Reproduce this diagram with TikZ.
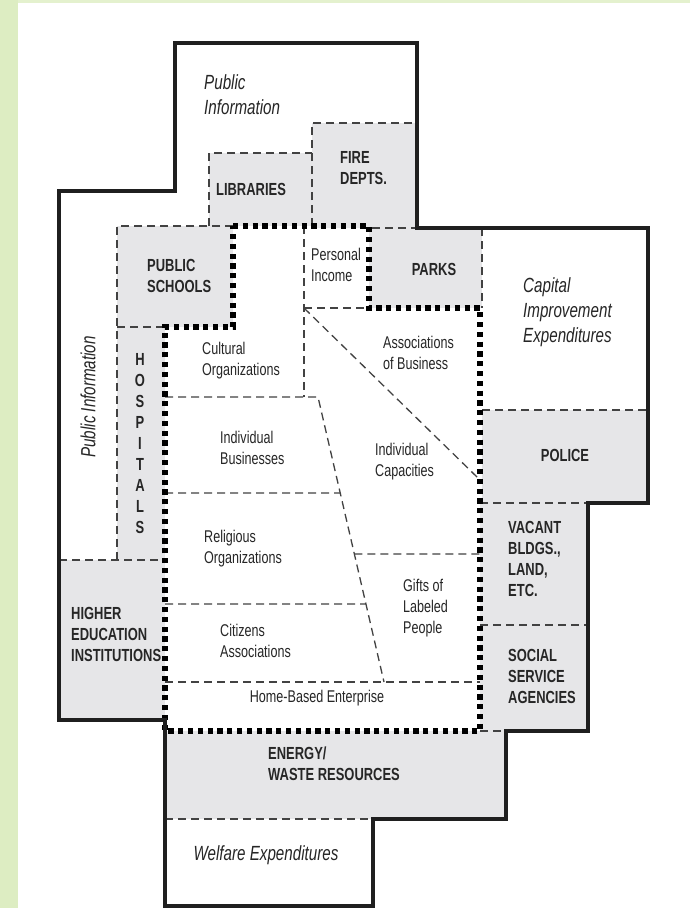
\documentclass[tikz,border=0pt]{standalone}
\usepackage{fontspec}
\setmainfont{Liberation Sans}
\newfontfamily\narrowfont{Liberation Sans}[FakeStretch=0.74]
\usetikzlibrary{calc}
\definecolor{cellgray}{HTML}{E6E6E8}
\definecolor{stripgreen}{HTML}{DDEDC2}
\definecolor{topgreen}{HTML}{E4F1CE}
\tikzset{outline/.style={draw=black!88, line width=4pt, line join=miter}}
\tikzset{cell/.style={draw=black!74, line width=1.3pt, dash pattern=on 8pt off 5pt}}
\tikzset{grayed/.style={fill=cellgray}}
\tikzset{core/.style={draw=black, line width=6pt, dash pattern=on 5.2pt off 4.6pt}}
\tikzset{capstext/.style={font=\narrowfont\bfseries\fontsize{17.5}{21}\selectfont, align=left, inner sep=0pt, text=black!85}}
\tikzset{bodytext/.style={font=\narrowfont\fontsize{17}{21}\selectfont, align=left, inner sep=0pt, text=black!85}}
\tikzset{italtext/.style={font=\narrowfont\itshape\fontsize{20.5}{25}\selectfont, align=left, inner sep=0pt, text=black!85}}
\begin{document}
\begin{tikzpicture}[x=1pt, y=-1pt]
    \useasboundingbox (0,0) rectangle (690,908);
    \fill[white] (0,0) rectangle (690,908);
    \fill[stripgreen] (0,0) rectangle (18,908);
    \fill[topgreen] (18,0) rectangle (690,3);

    \fill[grayed] (209,153) rectangle (312,226);
    \fill[grayed] (312,123) rectangle (417,228);
    \fill[grayed] (117,226) rectangle (233,327);
    \fill[grayed] (117,327) rectangle (165,560);
    \fill[grayed] (59,560) rectangle (165,720);
    \fill[grayed] (369,228) rectangle (482,308);
    \fill[grayed] (482,410) rectangle (648,503);
    \fill[grayed] (480,503) rectangle (588,731);
    \fill[grayed] (165,731) rectangle (506,819);

    \draw[cell] (209,226) -- (209,153) -- (312,153);
    \draw[cell] (312,226) -- (312,123) -- (417,123);
    \draw[cell] (372,228) -- (417,228);
    \draw[cell] (482,228) -- (482,308);
    \draw[cell] (233,226) -- (117,226) -- (117,560);
    \draw[cell] (117,327) -- (165,327);
    \draw[cell] (59,560) -- (165,560);
    \draw[cell] (304,226) -- (304,397);
    \draw[cell] (304,308) -- (369,308);
    \draw[cell] (482,410) -- (648,410);
    \draw[cell] (480,503) -- (588,503);
    \draw[cell] (480,625) -- (588,625);
    \draw[cell] (480,731) -- (506,731);
    \draw[cell] (165,819) -- (373,819);

    \coordinate (slanttop) at (318,397);
    \coordinate (slantbot) at (384,682);
    \draw[cell] (165,397) -- (slanttop) -- (slantbot);
    \draw[cell] (165,493) -- ($(slanttop)!0.337!(slantbot)$);
    \draw[cell] (165,604) -- ($(slanttop)!0.726!(slantbot)$);
    \draw[cell] ($(slanttop)!0.551!(slantbot)$) -- (480,554);
    \draw[cell] (165,682) -- (480,682);
    \draw[cell] (304,308) -- (478,478);

    \draw[core] (233,226) -- (369,226) -- (369,308) -- (480,308) -- (480,731)
        -- (165,731) -- (165,327) -- (233,327) -- cycle;

    \draw[outline] (175,43) -- (417,43) -- (417,228) -- (648,228) -- (648,503)
        -- (588,503) -- (588,731) -- (506,731) -- (506,819) -- (373,819)
        -- (373,906) -- (165,906) -- (165,720) -- (59,720) -- (59,191)
        -- (175,191) -- cycle;

    \node[italtext, anchor=west] (pubinfotop) at (204,95) {Public\\Information};
    \node[capstext] (libraries) at (251,189) {LIBRARIES};
    \node[capstext, anchor=west] (fire) at (340,168) {FIRE\\DEPTS.};
    \node[capstext, anchor=west] (schools) at (147,276) {PUBLIC\\SCHOOLS};
    \node[bodytext, anchor=west] (income) at (311,265) {Personal\\Income};
    \node[capstext] (parks) at (434,269) {PARKS};
    \node[italtext, anchor=west] (capital) at (523,312) {Capital\\Improvement\\Expenditures};
    \node[italtext, rotate=90] (pubinfoleft) at (88,397) {Public Information};
    \foreach \ch [count=\i from 0] in {H,O,S,P,I,T,A,L,S}
        \node[capstext] (hosp\i) at (140,{359+21.1*\i}) {\ch};
    \node[bodytext, anchor=west] (cultural) at (202,361) {Cultural\\Organizations};
    \node[bodytext, anchor=west] (assocbus) at (383,353) {Associations\\of Business};
    \node[bodytext, anchor=west] (indbus) at (220,448) {Individual\\Businesses};
    \node[bodytext, anchor=west] (indcap) at (375,462) {Individual\\Capacities};
    \node[capstext] (police) at (565,455) {POLICE};
    \node[bodytext, anchor=west] (religious) at (204,549) {Religious\\Organizations};
    \node[capstext, anchor=west] (vacant) at (508,559) {VACANT\\BLDGS.,\\LAND,\\ETC.};
    \node[bodytext, anchor=west] (gifts) at (403,608) {Gifts of\\Labeled\\People};
    \node[capstext, anchor=west] (higher) at (71,634) {HIGHER\\EDUCATION\\INSTITUTIONS};
    \node[bodytext, anchor=west] (citizens) at (220,641) {Citizens\\Associations};
    \node[capstext, anchor=west] (social) at (508,676) {SOCIAL\\SERVICE\\AGENCIES};
    \node[bodytext] (homebased) at (317,698) {Home-Based Enterprise};
    \node[capstext, anchor=west] (energy) at (268,764) {ENERGY/\\WASTE RESOURCES};
    \node[italtext] (welfare) at (266,855) {Welfare Expenditures};
\end{tikzpicture}
\end{document}
